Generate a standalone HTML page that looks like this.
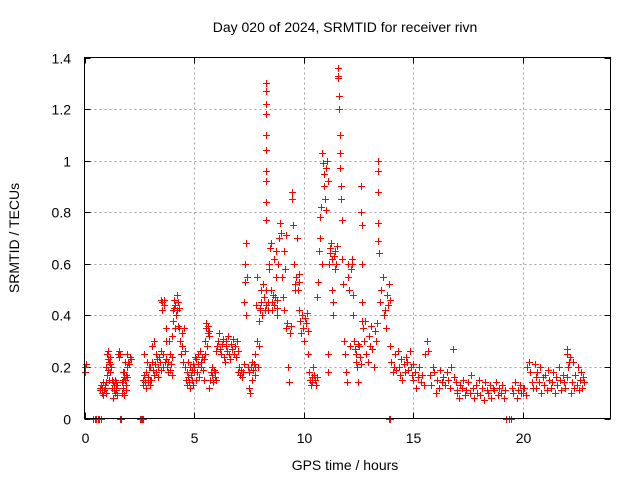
<!DOCTYPE html>
<html><head><meta charset="utf-8"><style>
body{margin:0;background:#fff}
svg text{font-family:"Liberation Sans",sans-serif;font-size:14px;fill:#000}
</style></head><body>
<svg id="chart" width="640" height="480" xmlns="http://www.w3.org/2000/svg" shape-rendering="crispEdges">
<text x="345" y="32" text-anchor="middle">Day 020 of 2024, SRMTID for receiver rivn</text>
<text x="345" y="470" text-anchor="middle">GPS time / hours</text>
<text transform="translate(19,238) rotate(-90)" text-anchor="middle">SRMTID / TECUs</text>
<g id="grid"></g>
<g id="ticks"></g>
<g id="points"></g>
<rect x="84.5" y="57.5" width="526" height="361" fill="none" stroke="#000" stroke-width="1"/>
</svg>
<script>
const xTicks=[0,5,10,15,20];
const yTicks=[0,0.2,0.4,0.6,0.8,1,1.2,1.4];
const yTickLabels=["0","0.2","0.4","0.6","0.8","1","1.2","1.4"];
const segStart=[0.0,0.4,0.7,1.0,1.25,1.55,1.7,1.95,2.55,2.65,3.0,3.5,3.7,4.0,4.3,4.6,5.0,5.5,5.7,6.0,7.0,7.3,7.45,7.8,8.0,8.28,8.35,8.8,9.2,9.45,9.8,10.2,10.6,10.85,11.1,11.55,11.8,12.2,12.62,12.7,13.38,13.5,13.9,13.95,15.0,17.0,19.25,19.5,20.0,20.6,22.0,22.2];
const segEnd=[0.05,0.75,1.0,1.2,1.5,1.65,1.95,2.1,2.65,3.0,3.5,3.7,4.0,4.3,4.6,5.0,5.5,5.7,6.0,7.0,7.3,7.4,7.8,8.0,8.3,8.3,8.8,9.2,9.4,9.8,10.2,10.6,10.85,11.1,11.5,11.75,12.2,12.6,12.68,13.35,13.42,13.95,13.92,15.0,17.0,19.2,19.45,20.0,20.6,22.0,22.15,22.8];
const segVals=[
[0.2,0.18,0.21],
[0,0,0,0,0,0],
[0.12,0.11,0.13,0.1,0.12,0.09,0.14,0.11,0.13,0.12,0.1,0.14],
[0.2,0.25,0.17,0.23,0.26,0.19,0.15,0.22,0.24,0.18,0.21,0.2],
[0.12,0.15,0.08,0.14,0.11,0.13,0.1,0.15,0.12,0.14,0.11,0.13,0.09],
[0.25,0.26,0.24,0.25,0,0,0],
[0.14,0.1,0.18,0.15,0.12,0.16,0.09,0.18,0.15,0.22,0.13,0.17,0.11,0.16,0.2],
[0.25,0.22,0.21,0.24,0.23],
[0,0,0,0],
[0.15,0.13,0.17,0.25,0.14,0.12,0.18,0.22,0.16,0.14,0.2,0.13,0.15],
[0.2,0.15,0.22,0.28,0.19,0.3,0.17,0.21,0.25,0.18,0.23,0.2,0.16,0.24,0.22,0.19,0.26],
[0.46,0.45,0.42,0.2,0.25,0.44,0.46,0.22,0.3],
[0.35,0.23,0.2,0.18,0.22,0.3,0.19,0.25,0.21,0.17,0.24],
[0.32,0.38,0.42,0.46,0.43,0.35,0.44,0.4,0.48,0.42,0.45,0.36,0.43],
[0.35,0.3,0.25,0.28,0.33,0.22,0.35,0.26],
[0.2,0.15,0.13,0.18,0.22,0.16,0.14,0.2,0.12,0.17,0.19,0.15,0.21,0.13,0.18],
[0.2,0.24,0.15,0.23,0.18,0.25,0.21,0.16,0.26,0.2,0.22,0.24,0.19,0.15,0.23,0.25],
[0.3,0.35,0.37,0.28,0.33,0.36,0.34,0.32],
[0.12,0.15,0.18,0.2,0.17,0.14,0.19,0.16,0.18,0.15],
[0.26,0.28,0.3,0.33,0.27,0.25,0.29,0.31,0.24,0.22,0.28,0.3,0.26,0.32,0.25,0.23,0.29,0.27,0.31,0.25,0.28,0.24,0.3,0.26],
[0.18,0.2,0.17,0.19,0.16,0.18,0.21],
[0.45,0.53,0.6,0.68,0.4,0.55],
[0.2,0.18,0.12,0.1,0.2,0.22,0.15,0.19,0.21,0.17,0.2],
[0.25,0.44,0.55,0.3,0.2,0.38,0.28,0.42],
[0.43,0.5,0.45,0.4,0.52,0.47,0.42,0.5,0.44],
[1.3,1.27,1.22,1.18,1.1,1.04,0.96,0.92,0.84,0.77],
[0.45,0.42,0.58,0.6,0.66,0.68,0.5,0.45,0.42,0.48,0.62,0.44,0.47,0.55,0.65,0.43,0.46],
[0.4,0.6,0.7,0.76,0.72,0.55,0.47,0.65,0.42,0.58,0.71],
[0.35,0.37,0.2,0.14,0.33,0.36],
[0.88,0.85,0.75,0.6,0.5,0.52,0.55,0.7,0.5,0.53,0.56],
[0.42,0.38,0.33,0.4,0.35,0.3,0.39,0.37,0.41,0.34],
[0.25,0.18,0.15,0.13,0.16,0.14,0.2,0.17,0.15,0.13,0.16],
[0.47,0.53,0.65,0.7,0.78,0.82,0.6],
[1.03,0.99,0.95,0.9,0.85,0.81,0.97,1.0,0.92],
[0.25,0.18,0.6,0.64,0.66,0.68,0.62,0.5,0.45,0.4,0.63,0.58,0.65,0.6,0.67],
[1.36,1.33,1.32,1.25,1.2,1.1,1.03,0.97,0.9,0.85,0.77,0.62],
[0.52,0.3,0.25,0.18,0.14,0.6,0.55,0.5,0.28,0.58,0.62],
[0.6,0.48,0.4,0.3,0.27,0.22,0.25,0.2,0.14,0.29,0.28,0.24,0.21],
[0.9,0.8,0.75,0.6,0.45,0.38],
[0.35,0.3,0.38,0.25,0.22,0.32,0.28,0.36,0.27,0.2,0.34,0.3,0.37],
[1.0,0.96,0.88,0.76,0.69,0.64],
[0.45,0.5,0.55,0.4,0.42,0.35,0.48,0.44,0.52,0.46],
[0,0],
[0.28,0.22,0.18,0.2,0.25,0.19,0.26,0.2,0.17,0.23,0.15,0.21,0.18,0.24,0.22,0.19,0.26,0.2,0.17,0.21],
[0.15,0.18,0.12,0.16,0.2,0.14,0.17,0.13,0.25,0.3,0.26,0.17,0.13,0.2,0.18,0.1,0.15,0.12,0.19,0.14,0.16,0.13,0.18,0.15,0.12,0.2,0.27,0.16,0.14,0.11],
[0.1,0.08,0.13,0.12,0.15,0.09,0.11,0.14,0.1,0.17,0.12,0.08,0.13,0.1,0.15,0.09,0.12,0.07,0.14,0.11,0.1,0.13,0.08,0.12,0.11,0.14,0.09,0.12,0.1,0.13,0.08,0.11],
[0,0,0],
[0.12,0.1,0.14,0.08,0.11,0.13,0.1,0.12],
[0.1,0.12,0.09,0.2,0.22,0.18,0.14,0.12,0.21,0.16],
[0.12,0.18,0.14,0.2,0.1,0.16,0.13,0.17,0.11,0.19,0.15,0.12,0.14,0.18,0.1,0.16,0.13,0.2,0.15,0.11,0.17,0.14,0.12,0.16],
[0.27,0.25,0.2,0.22,0.24],
[0.1,0.14,0.22,0.12,0.17,0.13,0.2,0.11,0.15,0.18,0.12,0.16,0.14]
];
const NS="http://www.w3.org/2000/svg";
const L=84.5,R=610.5,T=57.5,B=418.5;
const X0=0,X1=24,Y0=0,Y1=1.4;
function xs(v){return L+(v-X0)/(X1-X0)*(R-L);}
function ys(v){return B-(v-Y0)/(Y1-Y0)*(B-T);}
const grid=document.getElementById('grid'),ticks=document.getElementById('ticks'),pts=document.getElementById('points');
function line(g,x1,y1,x2,y2,st,dash){const l=document.createElementNS(NS,'line');l.setAttribute('x1',x1);l.setAttribute('y1',y1);l.setAttribute('x2',x2);l.setAttribute('y2',y2);l.setAttribute('stroke',st);if(dash)l.setAttribute('stroke-dasharray',dash);g.appendChild(l);return l;}
function txt(s,x,y,anchor,name){const t=document.createElementNS(NS,'text');t.textContent=s;t.setAttribute('x',x);t.setAttribute('y',y);t.setAttribute('text-anchor',anchor);


document.getElementById('chart').appendChild(t);}
xTicks.forEach(v=>{const x=Math.round(xs(v))+0.5;
 if(v>0){const g=line(grid,x,T,x,B,'#a0a0a0','2,3');
 
 }
 line(ticks,x,B,x,B-6,'#000');line(ticks,x,T,x,T+6,'#000');
 txt(String(v),x,443,'middle','x-tick-label');});
yTicks.forEach((v,i)=>{const y=Math.round(ys(v))+0.5;
 if(v>0&&v<1.4){const g=line(grid,L,y,R,y,'#a0a0a0','2,3');
 
 }
 line(ticks,L,y,L+6,y,'#000');line(ticks,R,y,R-6,y,'#000');
 txt(yTickLabels[i],71,y+5,'end','y-tick-label');});
segVals.forEach((vals,s)=>{const a=segStart[s],b=segEnd[s],n=vals.length;
 vals.forEach((v,k)=>{const t=n>1?a+(b-a)*k/(n-1):a;
  const x=Math.round(xs(t))+0.5,y=Math.round(ys(v))+0.5;
  const p=document.createElementNS(NS,'path');
  p.setAttribute('d',`M${x-3.5} ${y}H${x+3.5}M${x} ${y-3.5}V${y+3.5}`);
  p.setAttribute('stroke','#ff0000');p.setAttribute('fill','none');
  
  
  pts.appendChild(p);});});
</script>
</body></html>
